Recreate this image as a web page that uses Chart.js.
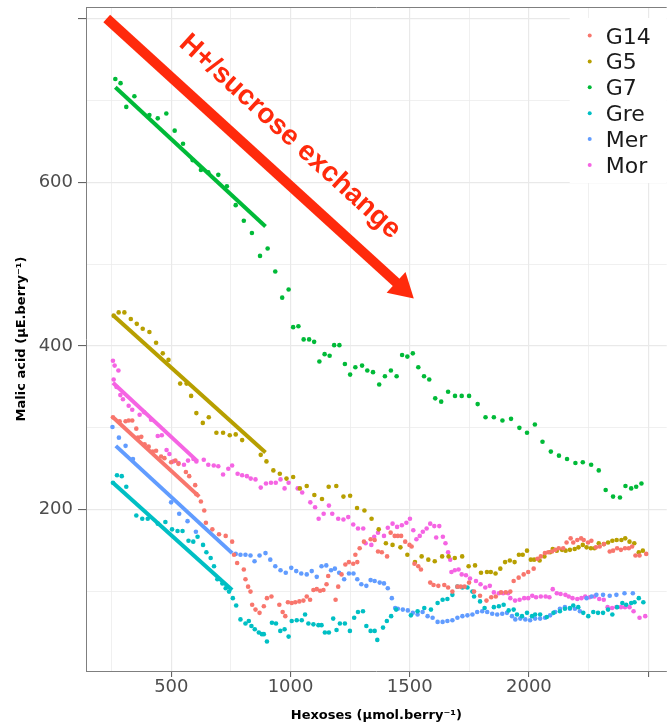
<!DOCTYPE html>
<html>
<head>
<meta charset="utf-8">
<script src="https://cdn.jsdelivr.net/npm/chart.js@4.4.1/dist/chart.umd.min.js"></script>
<style>
  html, body { margin: 0; padding: 0; background: #fff; overflow: hidden; }
  #wrap { width: 669px; height: 728px; position: relative; }
</style>
</head>
<body>
<div id="wrap"><canvas id="chartMalic"></canvas></div>
<script>
// ===== Data =====
const categories = ['G14', 'G5', 'G7', 'Gre', 'Mer', 'Mor'];

// [hexoses, malic acid]
const g14Points = [[255,313],[283,308],[308,308],[321,309],[336,309],[353,299],[360,288],[374,289],[388,280],[405,277],[422,271],[436,272],[457,265],[471,263],[499,258],[517,260],[530,256],[561,246],[575,241],[600,230],[605,219],[624,210],[638,199],[645,184],[672,176],[700,170],[728,168],[755,161],[763,145],[776,135],[804,127],[811,115],[822,106],[832,100],[839,84],[853,78],[870,74],[888,82],[901,92],[920,94],[953,84],[967,75],[978,70],[989,87],[1005,86],[1020,87],[1037,88],[1054,89],[1068,94],[1082,90],[1096,102],[1110,103],[1124,101],[1138,102],[1151,109],[1158,119],[1189,90],[1200,106],[1214,121],[1230,133],[1245,136],[1263,134],[1272,145],[1280,136],[1290,153],[1308,161],[1336,164],[1353,163],[1367,149],[1383,148],[1405,143],[1420,172],[1437,168],[1450,168],[1464,168],[1481,161],[1499,157],[1508,155],[1520,134],[1536,131],[1547,127],[1586,111],[1600,108],[1620,107],[1645,108],[1661,105],[1679,100],[1700,106],[1714,106],[1730,106],[1749,111],[1770,100],[1795,95],[1822,89],[1842,93],[1861,94],[1883,99],[1903,99],[1922,100],[1936,113],[1957,117],[1978,121],[1997,124],[2020,128],[2036,140],[2050,143],[2067,147],[2081,148],[2097,149],[2111,151],[2125,153],[2144,153],[2158,160],[2175,165],[2186,160],[2203,163],[2219,165],[2230,163],[2248,160],[2262,162],[2281,154],[2297,155],[2315,158],[2339,149],[2353,150],[2370,153],[2386,151],[2403,153],[2419,153],[2433,155],[2447,144],[2464,144],[2492,146]];
const g5Points = [[258,437],[279,441],[303,441],[330,433],[355,427],[380,421],[408,417],[436,404],[464,391],[488,383],[537,354],[564,354],[583,339],[605,318],[632,306],[657,313],[689,294],[717,294],[745,291],[770,292],[797,285],[875,267],[899,259],[928,248],[955,244],[983,238],[1011,240],[1039,226],[1068,229],[1100,218],[1132,213],[1160,228],[1192,229],[1222,216],[1250,217],[1279,202],[1310,199],[1340,189],[1370,176],[1400,159],[1428,157],[1461,154],[1490,145],[1522,136],[1550,143],[1578,139],[1605,137],[1636,143],[1663,143],[1689,141],[1720,143],[1747,131],[1774,132],[1799,123],[1824,124],[1840,124],[1860,122],[1880,128],[1900,136],[1920,138],[1940,136],[1958,145],[1974,145],[1992,150],[2008,139],[2022,139],[2045,138],[2065,143],[2089,148],[2100,152],[2117,150],[2139,151],[2154,150],[2172,151],[2192,152],[2208,154],[2226,157],[2242,154],[2260,153],[2275,153],[2293,159],[2314,158],[2332,160],[2350,162],[2368,163],[2388,163],[2404,165],[2422,161],[2442,159],[2461,148],[2478,150]];
const g7Points = [[265,726],[287,721],[311,692],[345,705],[408,682],[443,678],[479,684],[514,663],[549,647],[589,627],[624,615],[655,612],[697,609],[733,595],[770,572],[804,553],[838,538],[872,510],[904,519],[936,491],[965,459],[992,469],[1011,423],[1033,424],[1055,408],[1078,408],[1099,405],[1121,381],[1143,390],[1164,388],[1183,401],[1205,401],[1228,378],[1250,365],[1272,374],[1300,376],[1322,370],[1346,368],[1372,353],[1396,363],[1421,370],[1445,363],[1468,389],[1490,387],[1513,391],[1536,374],[1560,363],[1582,359],[1607,336],[1632,332],[1661,344],[1690,339],[1718,339],[1749,339],[1785,329],[1818,313],[1853,313],[1889,309],[1925,311],[1960,300],[1992,294],[2025,304],[2057,283],[2092,271],[2126,266],[2160,262],[2195,257],[2226,258],[2261,255],[2293,248],[2322,224],[2353,216],[2382,215],[2405,229],[2429,226],[2450,228],[2472,232]];
const grePoints = [[255,233],[272,242],[292,241],[311,228],[353,193],[378,189],[401,189],[443,183],[475,185],[503,176],[526,174],[547,174],[572,162],[592,161],[610,167],[633,157],[647,148],[665,141],[679,131],[693,115],[714,110],[728,104],[742,100],[758,92],[772,83],[790,66],[811,61],[825,64],[836,58],[850,54],[867,50],[880,48],[888,48],[901,39],[922,62],[939,61],[957,52],[975,54],[992,45],[1005,64],[1026,65],[1047,65],[1061,72],[1075,61],[1096,60],[1117,59],[1130,59],[1144,50],[1161,50],[1179,67],[1193,53],[1207,61],[1228,61],[1249,52],[1267,68],[1283,75],[1304,76],[1318,58],[1336,52],[1353,52],[1364,41],[1388,56],[1404,64],[1422,70],[1443,78],[1505,71],[1533,76],[1561,80],[1589,78],[1617,86],[1638,90],[1658,91],[1679,96],[1700,106],[1721,105],[1742,105],[1763,100],[1770,94],[1795,88],[1814,80],[1853,81],[1874,82],[1894,84],[1915,77],[1936,78],[1950,72],[1971,70],[1992,74],[2013,70],[2026,72],[2047,72],[2075,69],[2103,74],[2130,76],[2151,79],[2172,80],[2186,83],[2207,81],[2228,74],[2249,70],[2270,75],[2290,74],[2311,74],[2332,78],[2350,72],[2370,81],[2392,86],[2408,84],[2429,86],[2443,87],[2461,92],[2480,87]];
const merPoints = [[253,301],[280,288],[308,278],[339,262],[499,209],[533,195],[568,186],[603,173],[770,146],[790,145],[811,145],[832,144],[849,137],[870,144],[895,147],[915,139],[936,131],[958,126],[980,123],[1003,129],[1024,125],[1045,122],[1068,121],[1089,125],[1110,118],[1130,131],[1150,132],[1170,126],[1186,128],[1204,123],[1225,115],[1245,122],[1264,122],[1280,115],[1297,109],[1318,107],[1336,114],[1353,113],[1374,111],[1392,110],[1408,104],[1425,92],[1439,80],[1450,79],[1471,78],[1492,77],[1513,74],[1533,72],[1554,75],[1575,70],[1596,68],[1617,63],[1638,63],[1658,64],[1679,65],[1700,68],[1721,70],[1742,71],[1763,72],[1783,75],[1804,76],[1825,75],[1846,73],[1867,72],[1888,73],[1908,74],[1929,70],[1943,66],[1964,67],[1985,66],[2005,65],[2026,67],[2047,67],[2068,68],[2089,71],[2110,75],[2130,79],[2151,81],[2172,79],[2193,79],[2214,76],[2242,92],[2263,94],[2283,96],[2311,96],[2339,95],[2367,96],[2401,98],[2436,98]];
const morPoints = [[255,382],[258,359],[262,376],[270,350],[278,370],[286,340],[297,335],[321,327],[336,322],[367,316],[386,319],[415,310],[443,290],[460,291],[480,273],[492,268],[508,259],[530,257],[553,255],[570,260],[593,262],[605,259],[636,261],[655,255],[678,254],[697,253],[717,243],[739,250],[755,254],[778,244],[797,242],[817,241],[833,238],[853,237],[875,227],[897,232],[918,233],[938,233],[958,237],[975,226],[992,233],[1030,226],[1049,221],[1083,209],[1103,203],[1118,189],[1139,195],[1161,205],[1175,195],[1200,189],[1222,188],[1242,191],[1263,182],[1283,177],[1305,177],[1315,159],[1339,157],[1351,167],[1367,172],[1392,168],[1408,178],[1428,183],[1447,179],[1467,181],[1486,184],[1501,189],[1515,175],[1528,164],[1542,168],[1555,173],[1571,177],[1586,183],[1603,180],[1611,166],[1624,180],[1639,167],[1650,159],[1661,148],[1670,139],[1675,124],[1689,126],[1705,127],[1718,121],[1736,120],[1753,116],[1778,113],[1797,109],[1817,105],[1836,107],[1853,99],[1874,98],[1892,98],[1913,98],[1922,92],[1942,89],[1961,90],[1980,92],[1997,92],[2014,95],[2030,93],[2050,94],[2070,94],[2086,93],[2100,103],[2117,98],[2133,97],[2153,96],[2167,94],[2183,92],[2203,91],[2220,92],[2236,94],[2255,93],[2275,94],[2295,91],[2314,90],[2330,81],[2349,80],[2367,81],[2386,81],[2403,81],[2422,81],[2439,76],[2464,68],[2488,70]];

// fitted lines (start, end)
const g14Fit = [[255,313],[617,216]];
const g5Fit  = [[258,437],[895,270]];
const g7Fit  = [[265,716],[895,546]];
const greFit = [[255,233],[755,102]];
const merFit = [[267,278],[755,147]];
const morFit = [[255,355],[610,259]];

// axes
const xGridValues = [250, 500, 750, 1000, 1250, 1500, 1750, 2000, 2250, 2500];
const xMajorValues = [500, 1000, 1500, 2000, 2500];
const xTickLabels = [500, 1000, 1500, 2000];
const yGridValues = [100, 200, 300, 400, 500, 600, 700, 800];
const yMajorValues = [200, 400, 600, 800];
const yTickLabels = [200, 400, 600];

// annotation arrow (in data units)
const arrowFrom = [229, 800];
const arrowTo = [1517, 458];
const arrowText = 'H+/sucrose exchange';

// ===== Styles =====
const seriesColors = ['#F8766D', '#B79F00', '#00BA38', '#00BFC4', '#619CFF', '#F564E3'];
const arrowColor = '#FF2A0C';
const tickFont = { family: 'DejaVu Sans', size: 18 };
const titleFont = { family: 'DejaVu Sans', size: 13, weight: 'bold' };

const pointSets = [g14Points, g5Points, g7Points, grePoints, merPoints, morPoints];
const fitSets = [g14Fit, g5Fit, g7Fit, greFit, merFit, morFit];

const datasets = [];
categories.forEach((name, i) => {
    datasets.push({
        type: 'line',
        label: name + ' fit',
        data: fitSets[i].map(p => ({ x: p[0], y: p[1] })),
        borderColor: seriesColors[i],
        borderWidth: 4,
        pointRadius: 0,
        fill: false,
        order: 0
    });
    datasets.push({
        type: 'scatter',
        label: name,
        data: pointSets[i].map(p => ({ x: p[0], y: p[1] })),
        backgroundColor: seriesColors[i],
        borderWidth: 0,
        pointRadius: 2.3,
        pointHoverRadius: 2.3,
        order: 1
    });
});

// ===== Decorations: border, arrow, legend =====
const decorPlugin = {
    id: 'decor',
    beforeDraw(chart) {
        const c = chart.ctx;
        c.save();
        c.fillStyle = '#fff';
        c.fillRect(0, 0, chart.width, chart.height);
        c.restore();
    },
    afterDatasetsDraw(chart) {
        const c = chart.ctx;
        const area = chart.chartArea;
        const xs = chart.scales.x, ys = chart.scales.y;

        // top border
        c.save();
        c.strokeStyle = '#7F7F7F';
        c.lineWidth = 1;
        c.beginPath();
        c.moveTo(area.left, area.top + 0.5);
        c.lineTo(area.right, area.top + 0.5);
        c.stroke();

        // arrow + label
        const x0 = xs.getPixelForValue(arrowFrom[0]), y0 = ys.getPixelForValue(arrowFrom[1]);
        const x1 = xs.getPixelForValue(arrowTo[0]), y1 = ys.getPixelForValue(arrowTo[1]);
        const ang = Math.atan2(y1 - y0, x1 - x0);
        const len = Math.hypot(x1 - x0, y1 - y0);
        c.translate(x0, y0);
        c.rotate(ang);
        c.fillStyle = arrowColor;
        c.fillRect(0, -5, len - 22, 10);
        c.beginPath();
        c.moveTo(len, 0);
        c.lineTo(len - 24, -14);
        c.lineTo(len - 24, 14);
        c.closePath();
        c.fill();
        c.font = 'bold 28px "Liberation Sans", Arial, sans-serif';
        c.textAlign = 'center';
        c.textBaseline = 'middle';
        c.fillText(arrowText, 215, -36);
        c.restore();

        // legend
        c.save();
        const lx = area.right - 97;
        c.fillStyle = '#fff';
        c.fillRect(lx, area.top + 11, 97, 165);
        c.font = '22px "DejaVu Sans", sans-serif';
        c.textAlign = 'left';
        c.textBaseline = 'alphabetic';
        categories.forEach((name, i) => {
            const cy = area.top + 28.5 + i * 25.9;
            c.fillStyle = seriesColors[i];
            c.beginPath();
            c.arc(lx + 20, cy, 2, 0, Math.PI * 2);
            c.fill();
            c.fillStyle = '#1A1A1A';
            c.fillText(name, lx + 36, cy + 8);
        });
        c.restore();
    }
};

const ctx = document.getElementById('chartMalic');
new Chart(ctx, {
    type: 'scatter',
    data: { datasets: datasets },
    options: {
        responsive: true,
        maintainAspectRatio: false,
        animation: false,
        events: [],
        layout: { padding: { top: 7, right: 0, left: 0, bottom: 0 } },
        plugins: {
            legend: { display: false },
            tooltip: { enabled: false }
        },
        scales: {
            x: {
                type: 'linear',
                bounds: 'data',
                min: 142,
                max: 2578,
                afterBuildTicks: s => { s.ticks = xGridValues.map(v => ({ value: v })); },
                afterFit: s => { s.height = 57; s.paddingLeft = 0; s.paddingRight = 0; },
                ticks: {
                    autoSkip: false,
                    maxRotation: 0,
                    color: '#4D4D4D',
                    font: tickFont,
                    padding: 0,
                    callback: v => xTickLabels.includes(v) ? String(v) : ''
                },
                grid: {
                    color: '#E9E9E9',
                    lineWidth: c => (c.tick && xMajorValues.includes(c.tick.value)) ? 1.2 : 0.7,
                    tickColor: c => (c.tick && xMajorValues.includes(c.tick.value)) ? '#555' : 'rgba(0,0,0,0)',
                    tickWidth: 1,
                    tickLength: 6
                },
                border: { display: true, color: '#7F7F7F', width: 1 },
                title: {
                    display: true,
                    text: 'Hexoses (µmol.berry⁻¹)',
                    color: '#000',
                    font: titleFont,
                    padding: { top: 0, bottom: 5 }
                }
            },
            y: {
                type: 'linear',
                bounds: 'data',
                min: 3,
                max: 814,
                afterBuildTicks: s => { s.ticks = yGridValues.map(v => ({ value: v })); },
                afterFit: s => { s.width = 86; s.paddingTop = 0; s.paddingBottom = 0; },
                ticks: {
                    autoSkip: false,
                    color: '#4D4D4D',
                    font: tickFont,
                    padding: 5,
                    callback: v => yTickLabels.includes(v) ? String(v) : ''
                },
                grid: {
                    color: '#E9E9E9',
                    lineWidth: c => (c.tick && yMajorValues.includes(c.tick.value)) ? 1.2 : 0.7,
                    tickColor: c => (c.tick && yMajorValues.includes(c.tick.value)) ? '#555' : 'rgba(0,0,0,0)',
                    tickWidth: 1,
                    tickLength: 8
                },
                border: { display: true, color: '#7F7F7F', width: 1 },
                title: {
                    display: true,
                    text: 'Malic acid (µE.berry⁻¹)',
                    color: '#000',
                    font: titleFont,
                    padding: { top: 14, bottom: 0 }
                }
            }
        }
    },
    plugins: [decorPlugin]
});
</script>
</body>
</html>
